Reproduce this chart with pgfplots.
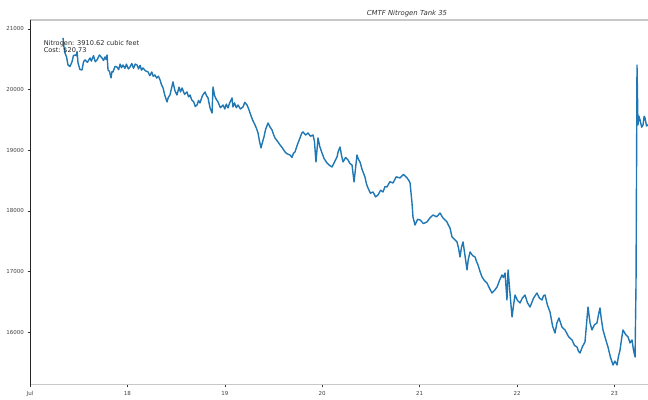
\documentclass[border=0pt]{standalone}
\usepackage{pgfplots}
\pgfplotsset{compat=1.18}
\usepackage{fontspec}
\setmainfont{DejaVu Sans}

\definecolor{mplblue}{HTML}{1F77B4}
\definecolor{spinegray}{HTML}{C8C8C8}

% tank level (cubic feet) against day of July
\pgfplotstableread{
day level
17.339 20852
17.349 20700
17.359 20604
17.375 20540
17.390 20406
17.410 20380
17.431 20456
17.446 20560
17.462 20571
17.473 20560
17.483 20621
17.493 20439
17.513 20330
17.534 20324
17.550 20460
17.565 20489
17.590 20450
17.616 20522
17.630 20470
17.652 20560
17.670 20460
17.688 20489
17.713 20570
17.739 20522
17.755 20480
17.770 20538
17.780 20500
17.791 20571
17.801 20324
17.816 20300
17.832 20192
17.842 20300
17.852 20291
17.872 20380
17.893 20373
17.910 20330
17.925 20420
17.940 20360
17.955 20406
17.975 20350
17.990 20420
18.010 20340
18.027 20373
18.045 20430
18.063 20350
18.080 20420
18.099 20406
18.115 20340
18.130 20400
18.145 20320
18.160 20357
18.185 20310
18.212 20291
18.230 20230
18.250 20290
18.265 20220
18.283 20241
18.300 20190
18.318 20220
18.335 20159
18.350 20080
18.366 20027
18.385 19900
18.407 19796
18.420 19870
18.437 19911
18.450 20000
18.468 20126
18.488 19980
18.509 19911
18.530 20040
18.545 19960
18.561 20027
18.587 19920
18.612 19961
18.628 19880
18.643 19911
18.660 19830
18.680 19800
18.697 19720
18.715 19746
18.730 19820
18.745 19779
18.770 19900
18.797 19961
18.812 19900
18.828 19862
18.848 19700
18.869 19614
18.879 20043
18.895 19900
18.912 19840
18.930 19796
18.955 19700
18.982 19746
19.000 19680
19.015 19760
19.033 19697
19.050 19780
19.065 19830
19.074 19862
19.084 19713
19.100 19780
19.118 19700
19.136 19746
19.160 19680
19.187 19713
19.205 19790
19.228 19746
19.245 19680
19.259 19614
19.285 19500
19.310 19416
19.325 19360
19.341 19284
19.356 19150
19.372 19037
19.385 19120
19.402 19218
19.420 19350
19.444 19449
19.465 19380
19.485 19334
19.500 19260
19.515 19202
19.540 19150
19.567 19086
19.590 19040
19.618 18971
19.640 18940
19.669 18921
19.690 18880
19.705 18950
19.721 18971
19.745 19090
19.772 19202
19.790 19280
19.803 19301
19.830 19250
19.854 19284
19.880 19230
19.906 19251
19.920 19150
19.936 18806
19.957 19202
19.975 19060
19.998 18954
20.020 18860
20.049 18789
20.075 18750
20.101 18723
20.125 18800
20.152 18888
20.165 18980
20.183 19053
20.200 18900
20.214 18806
20.240 18880
20.265 18839
20.285 18780
20.306 18756
20.327 18476
20.357 18921
20.372 18850
20.388 18806
20.410 18680
20.439 18558
20.455 18440
20.470 18377
20.495 18290
20.522 18311
20.548 18230
20.573 18261
20.600 18340
20.624 18311
20.645 18400
20.665 18393
20.695 18480
20.727 18459
20.760 18560
20.799 18542
20.835 18600
20.871 18542
20.890 18500
20.902 18459
20.922 18129
20.932 17898
20.953 17766
20.980 17860
21.004 17849
21.040 17790
21.076 17816
21.105 17880
21.138 17931
21.175 17900
21.210 17964
21.225 17920
21.240 17882
21.260 17850
21.281 17816
21.297 17760
21.312 17717
21.333 17568
21.358 17530
21.384 17486
21.400 17380
21.415 17238
21.430 17400
21.446 17486
21.467 17250
21.487 17024
21.500 17200
21.518 17321
21.545 17260
21.569 17238
21.585 17160
21.600 17106
21.620 17000
21.641 16908
21.665 16850
21.692 16809
21.718 16720
21.743 16644
21.770 16690
21.795 16743
21.820 16850
21.846 16941
21.860 16900
21.877 16974
21.897 16529
21.908 17024
21.930 16600
21.949 16248
21.965 16450
21.980 16611
22.005 16520
22.031 16479
22.055 16560
22.082 16611
22.108 16480
22.134 16413
22.170 16560
22.205 16644
22.230 16560
22.257 16529
22.272 16600
22.288 16611
22.313 16440
22.339 16331
22.365 16100
22.390 15984
22.410 16150
22.431 16232
22.462 16080
22.493 16034
22.530 15920
22.565 15869
22.590 15780
22.616 15753
22.632 15680
22.647 15654
22.672 15760
22.698 15836
22.712 16100
22.729 16413
22.750 16150
22.770 16034
22.795 16120
22.821 16149
22.836 16280
22.852 16397
22.867 16200
22.883 16034
22.910 15880
22.934 15753
22.960 15580
22.986 15456
23.005 15520
23.027 15456
23.042 15600
23.058 15704
23.073 15880
23.088 16034
23.115 15960
23.140 15918
23.160 15820
23.181 15869
23.196 15700
23.212 15588
23.222 16809
23.232 20406
23.242 19416
23.252 19560
23.263 19499
23.280 19380
23.294 19416
23.305 19560
23.314 19532
23.330 19400
23.345 19416
23.380 19480
}\tankdata

\begin{document}
\begin{tikzpicture}
\begin{axis}[
  scale only axis,
  width=618pt, height=365pt,
  xmin=17, xmax=23.345,
  ymin=15126, ymax=21148,
  axis line style={draw=none},
  xtick={17,18,19,20,21,22,23},
  xticklabels={Jul,18,19,20,21,22,23},
  ytick={16000,17000,18000,19000,20000,21000},
  scaled y ticks=false,
  /pgf/number format/set thousands separator={},
  /pgf/number format/assume math mode=true,
  tick label style={font=\fontsize{5.5}{6}\selectfont, text=black!75},
  tick align=outside,
  major tick length=2.5pt,
  tick style={black!80, line width=0.5pt},
  xtick pos=bottom, ytick pos=left,
  clip=true,
]
\addplot[mplblue, line width=1.4pt, line join=round] table[x=day, y=level] {\tankdata};

% frame: dark left spine, light top and bottom
\draw[spinegray, line width=1.2pt] (rel axis cs:0,1) -- (rel axis cs:1,1);
\draw[spinegray, line width=1.2pt] (rel axis cs:0,0) -- (rel axis cs:1,0);
\draw[black!85, line width=1pt] (rel axis cs:0,0) -- (rel axis cs:0,1);

\node[anchor=north west, align=left, font=\fontsize{6.6}{7.6}\selectfont, inner sep=0pt, text=black!85]
  at (rel axis cs:0.022,0.945) {Nitrogen: 3910.62 cubic feet\\Cost: \$20.73};
\end{axis}
\node[font=\fontsize{6.9}{7.5}\selectfont\itshape, text=black!80] at (377pt,371pt) {CMTF Nitrogen Tank 35};
\path[use as bounding box] (-30pt,-13pt) rectangle (618pt,385pt);
\end{tikzpicture}
\end{document}
